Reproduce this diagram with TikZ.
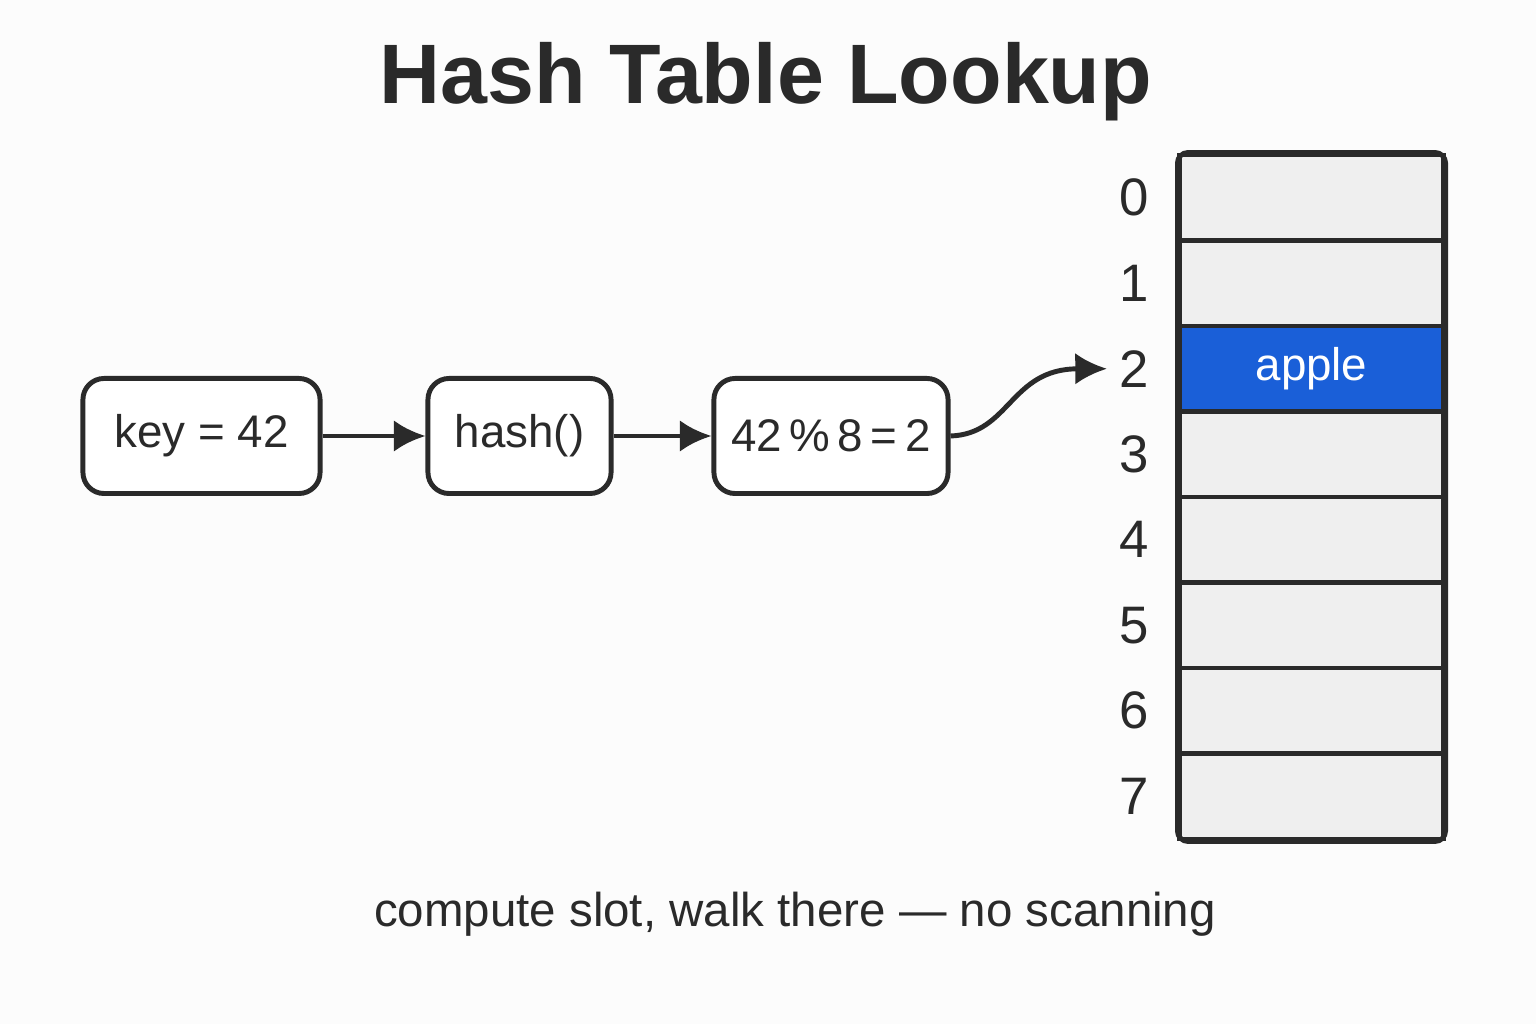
\documentclass[tikz,border=0pt]{standalone}
\usepackage{fontspec}
\setmainfont{Liberation Sans}
\usetikzlibrary{positioning,arrows.meta}
\definecolor{ink}{HTML}{2A2A2A}
\definecolor{slotgray}{HTML}{EFEFEF}
\definecolor{hitblue}{HTML}{1A5FD8}
\tikzset{
  stage/.style={draw=ink,line width=1.4pt,rounded corners=6pt,fill=white,minimum height=1.15cm,inner xsep=2pt,font=\fontsize{13}{15}\selectfont,text=ink},
  slot/.style={draw=ink,line width=1.4pt,fill=slotgray,minimum width=2.63cm,minimum height=0.855cm},
  idx/.style={font=\fontsize{15}{18}\selectfont,text=ink},
  link/.style={-{Latex[length=9pt,width=9pt]},draw=ink,line width=1.4pt}
}
\begin{document}
\begin{tikzpicture}[x=0.01cm,y=0.01cm]
  \useasboundingbox[fill=white!98!gray] (0,0) rectangle (1536,1024);
  \node[font=\bfseries\fontsize{24}{28}\selectfont,text=ink] (title) at (766,942) {Hash Table Lookup};

  \node[stage,minimum width=2.37cm] (key) at (201.5,588) {key = 42};
  \node[stage,minimum width=1.83cm] (hash) at (519.5,588) {hash()};
  \node[stage,minimum width=2.34cm] (mod) at (831,588) {42\,\%\,8\,=\,2};

  \foreach \i in {0,...,7} {
    \node[slot] (s\i) at (1311.5,826.25-85.5*\i) {};
    \node[idx] (n\i) at (1134,826.25-85.5*\i) {\i};
  }
  \node[slot,fill=hitblue,text=white,font=\fontsize{13}{15}\selectfont] (s2) at (1311.5,655.25) {apple};
  \draw[ink,line width=1.4pt,rounded corners=3pt] (s0.north west) rectangle (s7.south east);

  \draw[link] (key) -- (hash);
  \draw[link] (hash) -- (mod);
  \draw[link] (mod.east) .. controls (1010,590) and (1010,655) .. (n2.west);

  \node[font=\fontsize{13.5}{16}\selectfont,text=ink] (note) at (795,110) {compute slot, walk there — no scanning};
\end{tikzpicture}
\end{document}
